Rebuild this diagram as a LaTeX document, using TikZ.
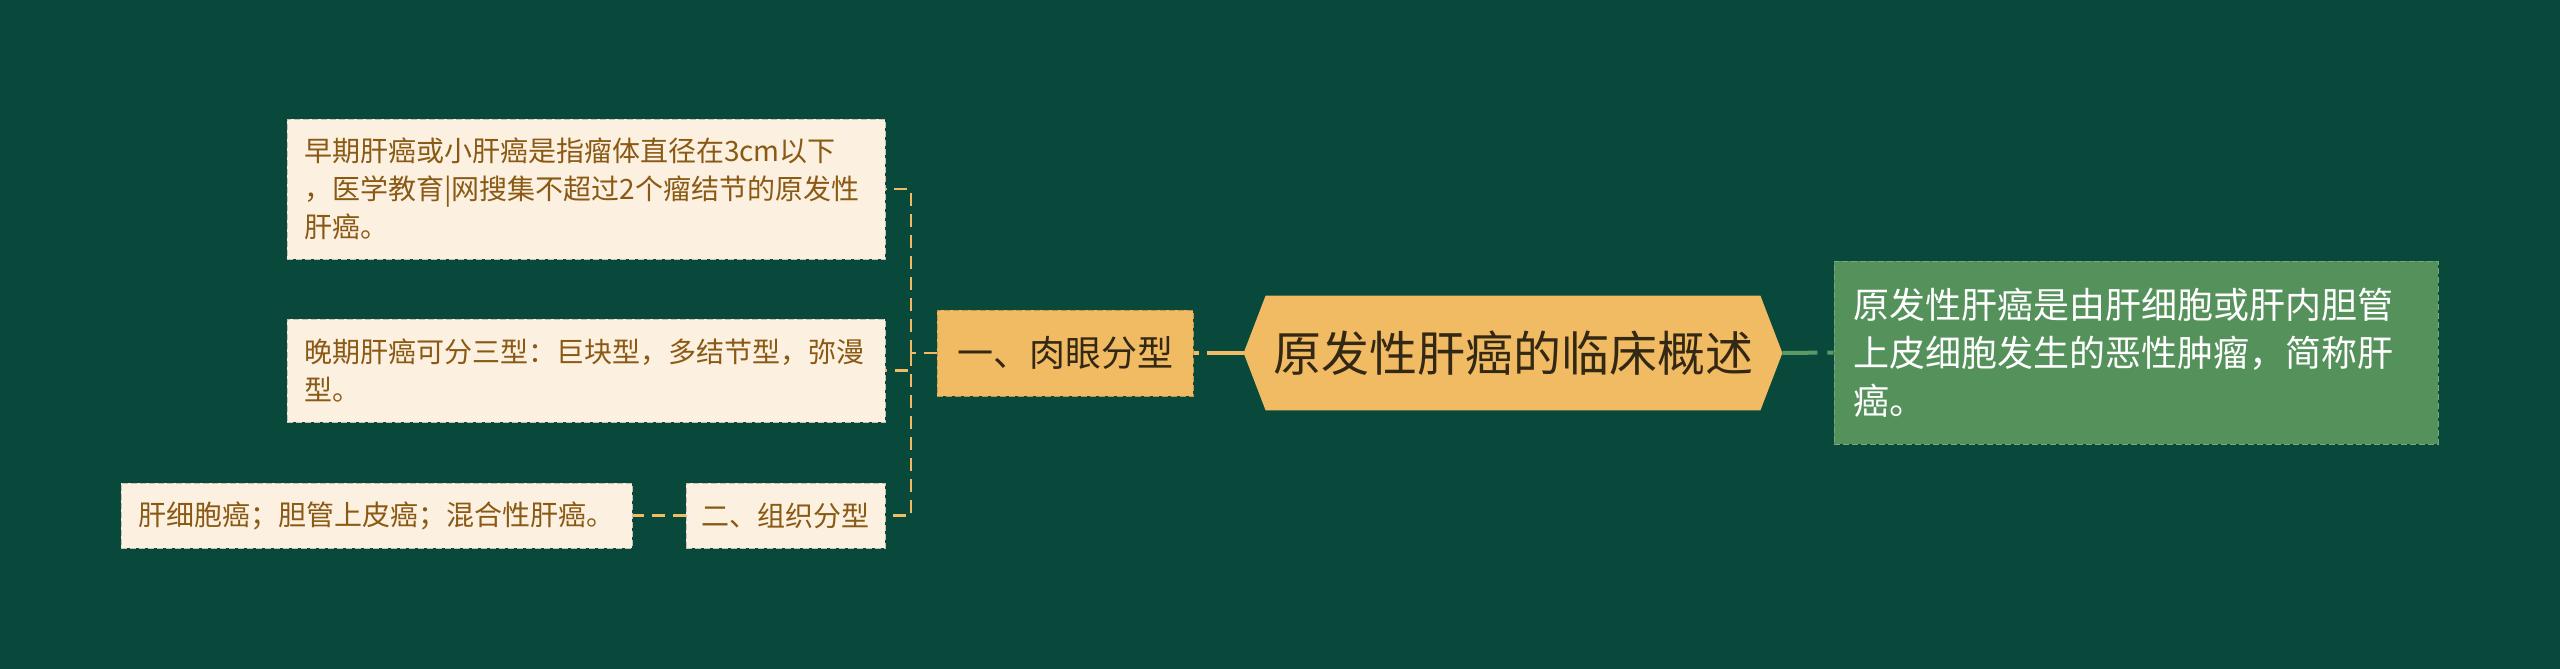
\documentclass[tikz,border=0pt]{standalone}
\usepackage{fontspec}
\setmainfont{Noto Sans CJK SC}
\usetikzlibrary{calc}
\definecolor{bg}{RGB}{8,73,59}
\definecolor{cream}{RGB}{252,240,225}
\definecolor{leaftext}{RGB}{138,90,20}
\definecolor{gold}{RGB}{240,187,99}
\definecolor{roottext}{RGB}{51,40,20}
\definecolor{leafgreen}{RGB}{85,145,91}
\definecolor{linkgreen}{RGB}{91,154,100}
\pgfdeclarelayer{bglayer}
\pgfdeclarelayer{shapelayer}
\pgfsetlayers{bglayer,shapelayer,main}
\begin{document}
\begin{tikzpicture}[x=0.5pt,y=-0.5pt,
  leaf/.style={fill=cream, draw=cream!80!black, line width=0.5pt, dash pattern=on 3pt off 1.5pt,
    text=leaftext, font=\fontsize{14pt}{19pt}\selectfont, inner ysep=0pt},
  multileaf/.style={leaf, align=left, inner xsep=8.5pt, text width=282pt},
  conn/.style={draw=gold, line width=1.1pt, dash pattern=on 6.5pt off 4pt},
]
\begin{pgfonlayer}{bglayer}
\fill[bg] (0,0) rectangle (2560,669);
\end{pgfonlayer}

% nodes
\node[multileaf, minimum height=70pt] (A) at (586,189)
  {早期肝癌或小肝癌是指瘤体直径在3cm以下\\，医学教育|网搜集不超过2个瘤结节的原发性\\肝癌。};
\node[multileaf, minimum height=51.5pt] (B) at (586,370.5)
  {晚期肝癌可分三型：巨块型，多结节型，弥漫\\型。};
\node[leaf, minimum width=255.5pt, minimum height=32.5pt, inner xsep=0pt] (C) at (376.5,515.5)
  {肝细胞癌；胆管上皮癌；混合性肝癌。};
\node[leaf, minimum width=99.5pt, minimum height=32.5pt, inner xsep=0pt] (D) at (785.5,515.5)
  {二、组织分型};
\node[fill=gold, draw=gold!80!black, line width=0.5pt, dash pattern=on 3pt off 1.5pt,
  text=roottext, font=\fontsize{18pt}{24pt}\selectfont,
  minimum width=128pt, minimum height=43pt, inner sep=0pt] (E) at (1065,353) {一、肉眼分型};
\node[text=roottext, font=\fontsize{24pt}{30pt}\selectfont,
  minimum width=269pt, minimum height=57pt, inner sep=0pt] (R) at (1513,353) {原发性肝癌的临床概述};
\node[fill=leafgreen, draw=leafgreen!80!white, line width=0.5pt, dash pattern=on 3pt off 1.5pt,
  text=white, font=\fontsize{18pt}{24pt}\selectfont, align=left,
  inner xsep=9.5pt, text width=283pt, minimum height=91.5pt, inner ysep=0pt] (F) at (2136,352.5)
  {原发性肝癌是由肝细胞或肝内胆管\\上皮细胞发生的恶性肿瘤，简称肝\\癌。};

% hexagon of the root
\begin{pgfonlayer}{shapelayer}
\fill[gold] (R.west) -- ($(R.north west)+(22,0)$) -- ($(R.north east)+(-22,0)$) -- (R.east)
  -- ($(R.south east)+(-22,0)$) -- ($(R.south west)+(22,0)$) -- cycle;
\end{pgfonlayer}

% connectors
\coordinate (sp) at (911,353);
\draw[draw=gold, line width=2pt, dash pattern=on 18.5pt off 4pt] (R.west) -- (E.east);
\draw[draw=linkgreen, line width=2pt, dash pattern=on 17.5pt off 5pt] (R.east) -- (F.west);
\draw[conn] (E.west) -- (sp);
\draw[conn] (sp) |- (A.east);
\draw[conn] (sp) |- (B.east);
\draw[conn] (sp) |- (D.east);
\draw[conn] (D.west) -- (C.east);
\end{tikzpicture}
\end{document}
